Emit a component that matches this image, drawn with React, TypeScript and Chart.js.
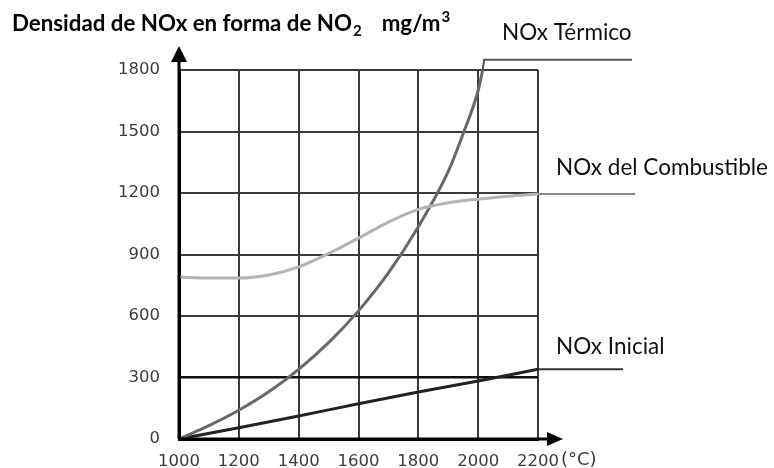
import { useEffect, useRef } from "react";
import { Chart, registerables } from "chart.js";

Chart.register(...registerables);

// ---- data ----
const xTicks = [1000, 1200, 1400, 1600, 1800, 2000, 2200];
const yTicks = [0, 300, 600, 900, 1200, 1500, 1800];

const thermalTemps = [1000, 1100, 1200, 1300, 1400, 1500, 1600, 1700, 1800, 1900, 1950, 2000, 2015];
const thermalValues = [0, 65, 140, 230, 340, 470, 625, 810, 1035, 1305, 1490, 1700, 1800];

const fuelTemps = [1000, 1100, 1200, 1300, 1400, 1500, 1600, 1700, 1800, 1900, 2000, 2100, 2200];
const fuelValues = [790, 785, 785, 800, 840, 905, 980, 1058, 1120, 1152, 1170, 1184, 1195];

const initialTemps = [1000, 1200, 1400, 1600, 1800, 2000, 2200];
const initialValues = [0, 55, 112, 172, 229, 283, 340];

const thermalLeaderTemps = [2015, 2020, 2514];
const thermalLeaderValues = [1800, 1850, 1850];
const fuelLeaderTemps = [2200, 2525];
const fuelLeaderValues = [1195, 1195];
const initialLeaderTemps = [2200, 2484];
const initialLeaderValues = [340, 340];

const seriesLabels = ["NOx Térmico", "NOx del Combustible", "NOx Inicial"];
const titleMain = "Densidad de NOx en forma de NO";
const titleSub = "2";
const titleUnit = "mg/m";
const titleSup = "3";
const xUnit = "(°C)";

const pts = (xs: number[], ys: number[]) => xs.map((x, i) => ({ x, y: ys[i] }));

const TICK_FONT = { family: "'DejaVu Sans', sans-serif", size: 16.5 };
const TICK_COLOR = "#3c3c3c";

const decorPlugin = {
  id: "decor",
  afterDraw(chart: any) {
    const { ctx, scales } = chart;
    const xs = scales.x;
    const ys = scales.y;
    const x0 = xs.getPixelForValue(1000);
    const y0 = ys.getPixelForValue(0);
    const xEnd = xs.getPixelForValue(2200);
    const yTop = ys.getPixelForValue(1800);
    ctx.save();
    // axis arrows
    ctx.strokeStyle = "#000";
    ctx.fillStyle = "#000";
    ctx.lineWidth = 3;
    ctx.beginPath();
    ctx.moveTo(x0, y0);
    ctx.lineTo(x0, yTop - 12);
    ctx.moveTo(x0, y0);
    ctx.lineTo(xEnd + 12, y0);
    ctx.stroke();
    ctx.beginPath();
    ctx.moveTo(x0, yTop - 24);
    ctx.lineTo(x0 - 8, yTop - 8);
    ctx.lineTo(x0 + 8, yTop - 8);
    ctx.closePath();
    ctx.fill();
    ctx.beginPath();
    ctx.moveTo(xEnd + 25, y0);
    ctx.lineTo(xEnd + 9, y0 - 7);
    ctx.lineTo(xEnd + 9, y0 + 7);
    ctx.closePath();
    ctx.fill();

    // x unit
    ctx.font = `18px ${TICK_FONT.family}`;
    ctx.fillStyle = TICK_COLOR;
    ctx.textBaseline = "middle";
    ctx.textAlign = "left";
    ctx.fillText(xUnit, xEnd + 23, y0 + 21);

    // series labels
    ctx.fillStyle = "#111";
    ctx.font = "22.5px Lato, 'Open Sans', sans-serif";
    ctx.fillText(seriesLabels[0], 502, 33);
    ctx.fillText(seriesLabels[1], 556, 168);
    ctx.fillText(seriesLabels[2], 556, 347);

    // title
    ctx.textBaseline = "alphabetic";
    ctx.fillStyle = "#000";
    const big = "bold 22.3px Lato, 'Open Sans', sans-serif";
    const small = "bold 15px Lato, 'Open Sans', sans-serif";
    let cx = 12;
    const base = 31;
    ctx.font = big;
    ctx.fillText(titleMain, cx, base);
    cx += ctx.measureText(titleMain).width;
    ctx.font = small;
    ctx.fillText(titleSub, cx + 1, base + 5);
    cx += ctx.measureText(titleSub).width + 1;
    ctx.font = big;
    cx += 20;
    ctx.fillText(titleUnit, cx, base);
    cx += ctx.measureText(titleUnit).width;
    ctx.font = small;
    ctx.fillText(titleSup, cx + 1, base - 9);
    ctx.restore();
  },
};

export default function App() {
  const ref = useRef<HTMLCanvasElement | null>(null);
  useEffect(() => {
    if (!ref.current) return;
    const line = (data: any[], color: string, width: number, extra: any = {}) => ({
      data,
      borderColor: color,
      backgroundColor: color,
      borderWidth: width,
      pointRadius: 0,
      fill: false,
      cubicInterpolationMode: "monotone",
      ...extra,
    });
    const chart = new Chart(ref.current, {
      type: "line",
      data: {
        datasets: [
          line(pts(fuelTemps, fuelValues), "#b4b4b4", 3, { label: seriesLabels[1] }),
          line(pts(thermalTemps, thermalValues), "#686868", 3, { label: seriesLabels[0] }),
          line(pts(initialTemps, initialValues), "#222", 3, { label: seriesLabels[2] }),
          line(pts(thermalLeaderTemps, thermalLeaderValues), "#555", 2, { clip: false, tension: 0, cubicInterpolationMode: "default" }),
          line(pts(fuelLeaderTemps, fuelLeaderValues), "#8a8a8a", 2, { clip: false, tension: 0, cubicInterpolationMode: "default" }),
          line(pts(initialLeaderTemps, initialLeaderValues), "#333", 2, { clip: false, tension: 0, cubicInterpolationMode: "default" }),
        ],
      },
      options: {
        animation: false,
        responsive: false,
        events: [],
        layout: { padding: { top: 70, right: 236, bottom: 0, left: 0 } },
        plugins: { legend: { display: false }, tooltip: { enabled: false } },
        scales: {
          x: {
            type: "linear",
            min: 1000,
            max: 2200,
            afterFit: (s: any) => {
              s.height = 29;
            },
            afterBuildTicks: (s: any) => {
              s.ticks = xTicks.map((v) => ({ value: v }));
            },
            ticks: {
              padding: 13,
              color: TICK_COLOR,
              font: TICK_FONT,
              maxRotation: 0,
              autoSkip: false,
              callback: (v: any) => String(v),
            },
            grid: { color: "#3a3a3a", lineWidth: 2, drawTicks: false },
            border: { color: "#000", width: 3 },
          },
          y: {
            type: "linear",
            min: 0,
            max: 1800,
            afterFit: (s: any) => {
              s.width = 179;
            },
            afterBuildTicks: (s: any) => {
              s.ticks = yTicks.map((v) => ({ value: v }));
            },
            ticks: {
              padding: 19,
              color: TICK_COLOR,
              font: TICK_FONT,
              autoSkip: false,
              callback: (v: any) => String(v),
            },
            grid: {
              color: (c: any) => (c.tick && c.tick.value === 300 ? "#111" : "#3a3a3a"),
              lineWidth: (c: any) => (c.tick && c.tick.value === 300 ? 2.5 : 2),
              drawTicks: false,
            },
            border: { color: "#000", width: 3 },
          },
        },
      },
      plugins: [decorPlugin],
    } as any);
    return () => chart.destroy();
  }, []);
  return (
    <div style={{ position: "fixed", left: 0, top: 0, width: 774, height: 468, background: "#fff" }}>
      <canvas ref={ref} width={774} height={468} style={{ display: "block" }} />
    </div>
  );
}
